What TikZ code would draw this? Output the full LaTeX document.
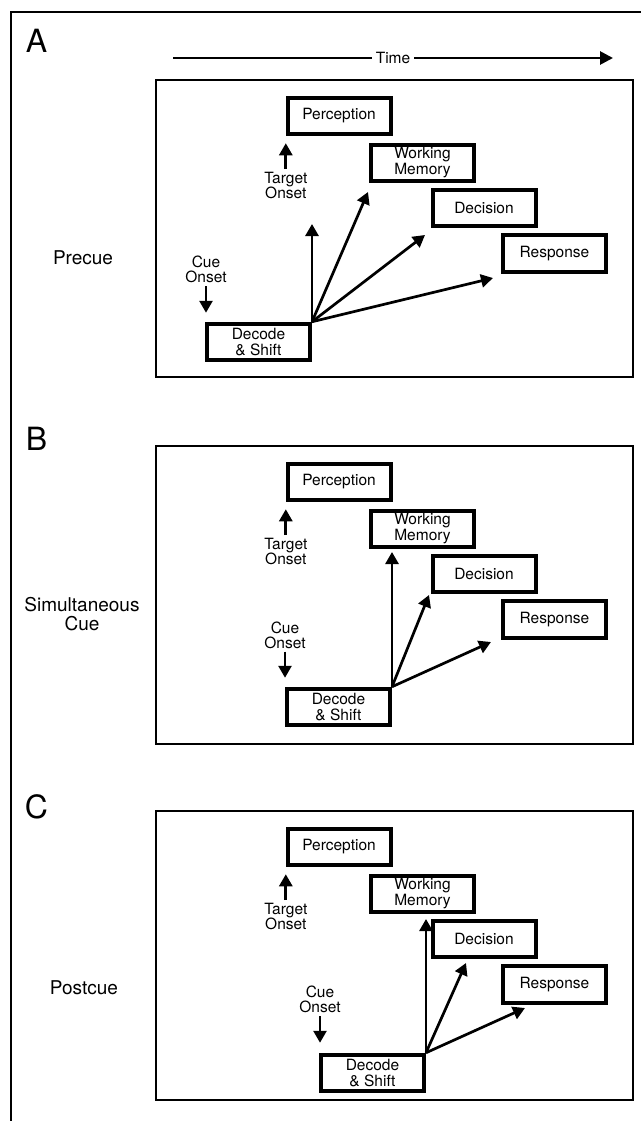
\documentclass[tikz,border=0pt]{standalone}
\usepackage{fontspec}
\setmainfont{TeX Gyre Heros}
\usetikzlibrary{arrows.meta}

\begin{document}
\begin{tikzpicture}[x=1pt,y=-1pt,
	stage/.style={draw, line width=4pt, minimum width=103pt, minimum height=36.5pt, inner sep=0pt, align=center, font=\fontsize{15.5}{16}\selectfont},
	onset/.style={align=center, inner sep=3pt, font=\fontsize{15.5}{15}\selectfont},
	cond/.style={align=center, font=\fontsize{19}{19}\selectfont},
	panel/.style={font=\fontsize{32}{32}\selectfont},
	arr/.style={line width=2.7pt, -{Triangle[length=12pt,width=13pt]}},
	trialbox/.style={line width=1.6pt}]
	\useasboundingbox (0,0) rectangle (641,1121);
	\draw[line width=2.4pt] (11,1121) -- (11,12) -- (641,12);

	\coordinate (t0) at (173,58);
	\coordinate (t1) at (613,58);
	\draw[line width=2.7pt, -{Triangle[length=13pt,width=13pt]}] (t0) -- (t1) node[midway, fill=white, inner sep=4pt, font=\fontsize{15.5}{15}\selectfont]{Time};

	\foreach \p/\dy/\ly/\bot in {A/0/40.5/377, B/366/439/744, C/731/807/1100}{
		\node[panel] (lab\p) at (36.5,\ly) {\p};
		\draw[trialbox] (156,80+\dy) rectangle (633,\bot);
		\node[stage] (perc\p) at (339,116+\dy) {Perception};
		\node[stage] (wm\p) at (422.5,163+\dy) {Working\\Memory};
		\node[stage] (decis\p) at (484,208+\dy) {Decision};
		\node[stage] (resp\p) at (554.5,253.5+\dy) {Response};
		\node[onset] (tgt\p) at (285.8,185.5+\dy) {Target\\Onset};
		\draw[arr, shorten >=7pt] (tgt\p.north) -- (tgt\p.north |- perc\p.south);
	}

	% precue
	\node[cond] (condA) at (83,258) {Precue};
	\node[onset] (cueA) at (206,269.5) {Cue\\Onset};
	\node[stage] (shiftA) at (258.5,342) {Decode\\\& Shift};
	\draw[arr, shorten >=9pt] (cueA.south) -- (cueA.south |- shiftA.north);
	\coordinate (a1) at (312,224);
	\coordinate (a2) at (368,192);
	\coordinate (a3) at (425,235);
	\coordinate (a4) at (493,278);
	\foreach \t in {a1,a2,a3,a4}
		\draw[arr] (shiftA.north east) -- (\t);

	% simultaneous cue
	\node[cond] (condB) at (82,614) {Simultaneous\\Cue};
	\node[onset] (cueB) at (285,635) {Cue\\Onset};
	\node[stage] (shiftB) at (338.5,707) {Decode\\\& Shift};
	\draw[arr, shorten >=9pt] (cueB.south) -- (cueB.south |- shiftB.north);
	\coordinate (b1) at (392,552);
	\coordinate (b2) at (429,595);
	\coordinate (b3) at (491,642);
	\foreach \t in {b1,b2,b3}
		\draw[arr] (shiftB.north east) -- (\t);

	% postcue
	\node[cond] (condC) at (84,988) {Postcue};
	\node[onset] (cueC) at (320,999.5) {Cue\\Onset};
	\node[stage] (shiftC) at (372.5,1073) {Decode\\\& Shift};
	\draw[arr, shorten >=10pt] (cueC.south) -- (cueC.south |- shiftC.north);
	\coordinate (c1) at (426,919);
	\coordinate (c2) at (466,963);
	\coordinate (c3) at (525,1008);
	\foreach \t in {c1,c2,c3}
		\draw[arr] (shiftC.north east) -- (\t);
\end{tikzpicture}
\end{document}
